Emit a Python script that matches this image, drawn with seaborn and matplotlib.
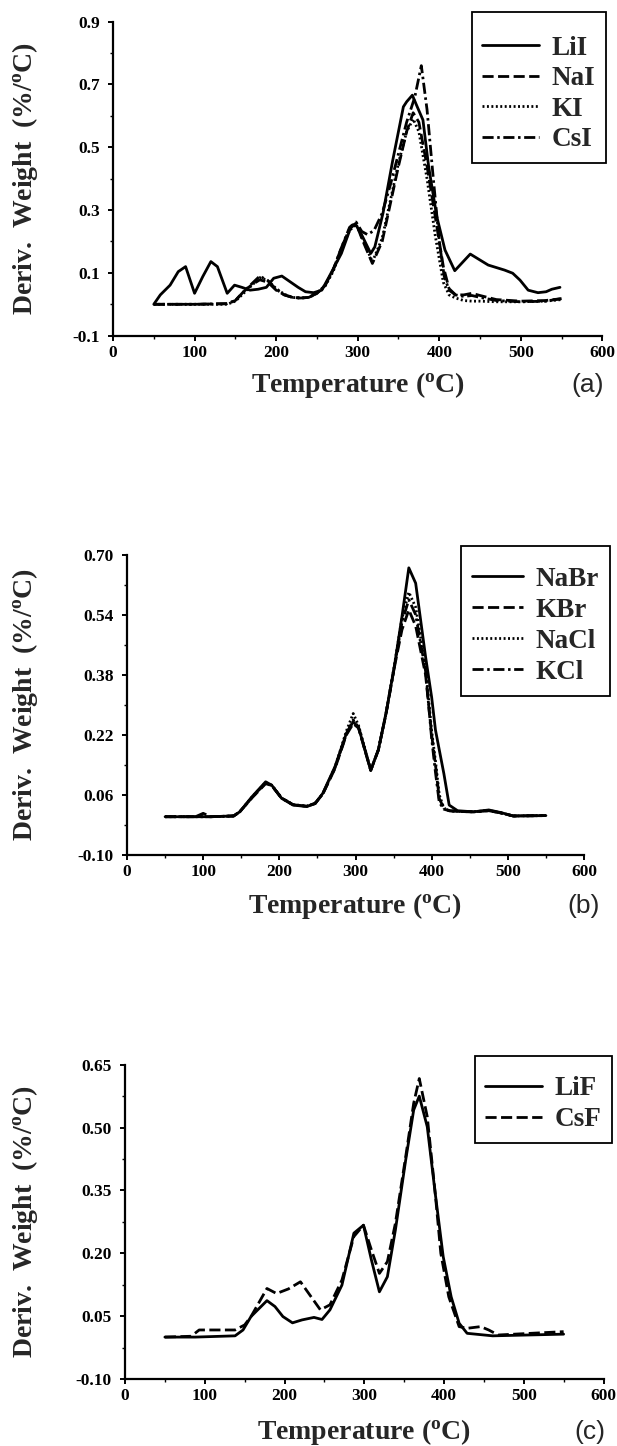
import numpy as np
import pandas as pd
import matplotlib
matplotlib.use("Agg")
import matplotlib.pyplot as plt
import seaborn as sns

# ---------------- data ----------------
# Panel (a)
T_LiI = [50, 58, 70, 80, 89, 100, 110, 120, 128, 140, 149, 158, 168, 178, 188, 197, 207, 217, 227, 236,
         246, 256, 265, 280, 292, 297, 304, 316, 321, 331, 343, 356, 360, 367, 373, 380, 387, 397, 407,
         419, 438, 460, 480, 490, 499, 509, 521, 531, 538, 548]
V_LiI = [0.0, 0.03, 0.061, 0.104, 0.12, 0.035, 0.088, 0.136, 0.12, 0.035, 0.061, 0.054, 0.045, 0.048,
         0.054, 0.083, 0.09, 0.072, 0.054, 0.04, 0.037, 0.045, 0.088, 0.162, 0.249, 0.256, 0.226, 0.162,
         0.183, 0.29, 0.459, 0.629, 0.645, 0.666, 0.629, 0.587, 0.438, 0.279, 0.173, 0.107, 0.16, 0.125,
         0.109, 0.099, 0.077, 0.045, 0.037, 0.04, 0.048, 0.054]
T_I = [50, 100, 140, 150, 160, 170, 180, 190, 200, 210, 220, 230, 240, 250, 260, 270, 280, 290, 298, 305,
       318, 330, 340, 350, 360, 368, 375, 385, 395, 405, 412, 420, 430, 440, 450, 470, 500, 530, 550]
V_NaI = [0.0, 0.0, 0.002, 0.012, 0.04, 0.062, 0.078, 0.07, 0.045, 0.03, 0.022, 0.02, 0.022, 0.035, 0.06,
         0.11, 0.18, 0.24, 0.258, 0.21, 0.13, 0.2, 0.32, 0.44, 0.55, 0.61, 0.58, 0.44, 0.28, 0.12, 0.05,
         0.03, 0.03, 0.035, 0.028, 0.015, 0.01, 0.012, 0.018]
V_KI = [0.0, 0.0, 0.0, 0.01, 0.035, 0.06, 0.085, 0.075, 0.05, 0.032, 0.022, 0.02, 0.022, 0.035, 0.058,
        0.105, 0.175, 0.235, 0.255, 0.215, 0.135, 0.21, 0.33, 0.45, 0.55, 0.59, 0.55, 0.40, 0.22, 0.07,
        0.03, 0.02, 0.012, 0.01, 0.01, 0.008, 0.008, 0.01, 0.015]
T_CsI = [50, 100, 140, 150, 160, 170, 180, 190, 200, 210, 220, 230, 240, 250, 260, 270, 280, 290, 298,
         305, 312, 320, 330, 340, 350, 360, 370, 378, 385, 392, 400, 406, 412, 420, 430, 440, 450, 470,
         500, 530, 550]
V_CsI = [0.0, 0.0, 0.002, 0.012, 0.04, 0.065, 0.09, 0.075, 0.048, 0.03, 0.022, 0.02, 0.022, 0.035, 0.06,
         0.11, 0.18, 0.245, 0.262, 0.232, 0.222, 0.235, 0.29, 0.38, 0.48, 0.58, 0.66, 0.76, 0.62, 0.42,
         0.2, 0.09, 0.045, 0.03, 0.025, 0.028, 0.022, 0.012, 0.008, 0.01, 0.018]

# Panel (b)
T_b = [50, 90, 100, 110, 140, 148, 164, 182, 190, 203, 218, 236, 247, 257, 273, 288, 297, 304, 320, 330,
       340, 351, 361, 370, 379, 392, 400, 405, 410, 416, 423, 434, 455, 475, 491, 507, 550]
V_NaBr = [0.002, 0.002, 0.002, 0.002, 0.004, 0.015, 0.055, 0.095, 0.086, 0.051, 0.033, 0.029, 0.037,
          0.064, 0.135, 0.224, 0.255, 0.24, 0.126, 0.18, 0.277, 0.402, 0.535, 0.665, 0.624, 0.428, 0.32,
          0.233, 0.18, 0.117, 0.033, 0.018, 0.015, 0.02, 0.013, 0.004, 0.005]
V_KBr = [0.002, 0.002, 0.011, 0.002, 0.004, 0.015, 0.052, 0.09, 0.085, 0.052, 0.034, 0.03, 0.038, 0.062,
         0.13, 0.22, 0.25, 0.238, 0.125, 0.18, 0.275, 0.4, 0.5, 0.553, 0.51, 0.38, 0.22, 0.14, 0.05, 0.025,
         0.018, 0.016, 0.015, 0.018, 0.012, 0.004, 0.005]
V_NaCl = [0.002, 0.002, 0.002, 0.002, 0.004, 0.015, 0.054, 0.093, 0.086, 0.052, 0.034, 0.03, 0.038,
          0.063, 0.133, 0.23, 0.277, 0.245, 0.126, 0.18, 0.277, 0.405, 0.53, 0.60, 0.56, 0.40, 0.23, 0.15,
          0.06, 0.025, 0.018, 0.016, 0.015, 0.019, 0.012, 0.004, 0.005]
V_KCl = [0.002, 0.002, 0.002, 0.002, 0.004, 0.015, 0.053, 0.092, 0.085, 0.051, 0.034, 0.03, 0.037,
         0.063, 0.132, 0.222, 0.26, 0.24, 0.126, 0.18, 0.276, 0.40, 0.52, 0.58, 0.54, 0.39, 0.21, 0.12,
         0.04, 0.022, 0.018, 0.016, 0.015, 0.018, 0.012, 0.004, 0.005]

# Panel (c)
T_LiF = [50, 88, 138, 148, 158, 178, 188, 198, 210, 222, 237, 247, 257, 272, 287, 299, 309, 319, 329, 339,
         352, 362, 369, 379, 389, 399, 409, 419, 429, 461, 550]
V_LiF = [0.0, 0.0, 0.003, 0.017, 0.049, 0.087, 0.073, 0.049, 0.034, 0.041, 0.047, 0.042, 0.065, 0.124,
         0.248, 0.267, 0.184, 0.108, 0.144, 0.255, 0.423, 0.542, 0.575, 0.502, 0.343, 0.192, 0.096, 0.033,
         0.009, 0.003, 0.007]
T_CsF = [50, 83, 93, 138, 150, 158, 178, 190, 205, 220, 245, 257, 272, 287, 299, 309, 319, 329, 339, 352,
         362, 369, 379, 389, 396, 406, 419, 429, 446, 456, 468, 550]
V_CsF = [0.0, 0.002, 0.017, 0.017, 0.029, 0.049, 0.116, 0.104, 0.115, 0.132, 0.065, 0.077, 0.136, 0.24,
         0.267, 0.208, 0.152, 0.18, 0.271, 0.431, 0.558, 0.617, 0.526, 0.343, 0.2, 0.096, 0.025, 0.021,
         0.025, 0.017, 0.005, 0.013]

x_ticks = [0, 100, 200, 300, 400, 500, 600]
yticks_a = [-0.1, 0.1, 0.3, 0.5, 0.7, 0.9]
ylabels_a = ["-0.1", "0.1", "0.3", "0.5", "0.7", "0.9"]
yticks_b = [-0.10, 0.06, 0.22, 0.38, 0.54, 0.70]
ylabels_b = ["-0.10", "0.06", "0.22", "0.38", "0.54", "0.70"]
yticks_c = [-0.10, 0.05, 0.20, 0.35, 0.50, 0.65]
ylabels_c = ["-0.10", "0.05", "0.20", "0.35", "0.50", "0.65"]

# ---------------- style ----------------
sns.set_style("ticks")
plt.rcParams["font.family"] = ["Liberation Serif", "DejaVu Serif"]
plt.rcParams["font.weight"] = "bold"
plt.rcParams["mathtext.fontset"] = "custom"
plt.rcParams["mathtext.rm"] = "Liberation Serif:bold"
plt.rcParams["mathtext.it"] = "Liberation Serif:bold"
plt.rcParams["mathtext.bf"] = "Liberation Serif:bold"

W, H = 617, 1446
fig = plt.figure(figsize=(W / 100, H / 100), dpi=100)

SOLID = "-"
DASH = (0, (4, 1.6))
DOT = (0, (0.7, 0.9))
DASHDOT = (0, (4, 1.3, 0.9, 1.3))


def px_axes(x0, x1, y0, y1):
    return fig.add_axes([x0 / W, 1 - y1 / H, (x1 - x0) / W, (y1 - y0) / H])


def style_axes(ax, yticks, ylabels, ylim, yminor, xlab_off, tag, tag_xy, leg_anchor, leg_fs, lspace,
               title_fs, hlen):
    ax.set_xlim(0, 600)
    ax.set_ylim(*ylim)
    ax.set_xticks(x_ticks)
    ax.set_xticklabels([str(t) for t in x_ticks])
    ax.set_yticks(yticks)
    ax.set_yticklabels(ylabels)
    ax.set_xticks(np.arange(50, 600, 100), minor=True)
    ax.set_yticks(yminor, minor=True)
    for s in ["top", "right"]:
        ax.spines[s].set_visible(False)
    for s in ["left", "bottom"]:
        ax.spines[s].set_linewidth(1.6)
        ax.spines[s].set_color("black")
    ax.tick_params(axis="both", which="major", length=3.5, width=1.4, direction="out", colors="black",
                   labelsize=12.5)
    ax.tick_params(axis="both", which="minor", length=2, width=1.0, direction="out", colors="black")
    ax.tick_params(axis="x", which="major", pad=3)
    ax.tick_params(axis="y", which="major", pad=6)
    for lab in ax.get_xticklabels() + ax.get_yticklabels():
        lab.set_fontweight("bold")
    ax.set_xlabel(r"Temperature ($^{\mathrm{o}}$C)", fontsize=20, fontweight="bold", va="center")
    ax.xaxis.set_label_coords(0.5, xlab_off)
    ax.set_ylabel(r"Deriv.  Weight  (%/$^{\mathrm{o}}$C)", fontsize=20, fontweight="bold")
    bb = ax.get_position()
    ax.yaxis.set_label_coords((40 / W - bb.x0) / bb.width, 0.5)
    fig.text(tag_xy[0] / W, 1 - tag_xy[1] / H, tag, fontsize=19, fontweight="normal",
             family=["Liberation Sans", "DejaVu Sans"], ha="center", va="center")
    leg = ax.legend(loc="upper right", bbox_to_anchor=(leg_anchor[0] / W, 1 - leg_anchor[1] / H),
                    bbox_transform=fig.transFigure, frameon=True, fancybox=False, framealpha=1,
                    edgecolor="black", fontsize=leg_fs, handlelength=hlen, handletextpad=0.45,
                    labelspacing=lspace, borderpad=0.4, borderaxespad=0,
                    title=" ", title_fontsize=title_fs)
    leg.get_frame().set_linewidth(1.3)
    for t in leg.get_texts():
        t.set_fontweight("bold")


LW = 2.0

# ---- panel (a)
ax = px_axes(113, 602.4, 21.7, 335.7)
for T, V, name, ls in [(T_LiI, V_LiI, "LiI", SOLID), (T_I, V_NaI, "NaI", DASH),
                       (T_I, V_KI, "KI", DOT), (T_CsI, V_CsI, "CsI", DASHDOT)]:
    df = pd.DataFrame({"T": T, "V": V})
    sns.lineplot(data=df, x="T", y="V", ax=ax, color="black", linewidth=LW, linestyle=ls, label=name,
                 sort=False)
style_axes(ax, yticks_a, ylabels_a, (-0.1, 0.9), np.arange(0.0, 0.9, 0.2), -(385 - 335.7) / 314,
           "(a)", (588, 385), (606, 11.7), 19.5, 0.2, 6, 2.1)

# ---- panel (b)
ax = px_axes(127, 584, 554.7, 855)
for V, name, ls in [(V_NaBr, "NaBr", SOLID), (V_KBr, "KBr", DASH), (V_NaCl, "NaCl", DOT),
                    (V_KCl, "KCl", DASHDOT)]:
    df = pd.DataFrame({"T": T_b, "V": V})
    sns.lineplot(data=df, x="T", y="V", ax=ax, color="black", linewidth=LW, linestyle=ls, label=name,
                 sort=False)
style_axes(ax, yticks_b, ylabels_b, (-0.10, 0.70), np.arange(-0.02, 0.70, 0.16), -(906 - 855) / 300.3,
           "(b)", (584, 906), (609.5, 546), 19.5, 0.22, 3, 1.9)

# ---- panel (c)
ax = px_axes(125, 603.5, 1064.7, 1379)
for T, V, name, ls in [(T_LiF, V_LiF, "LiF", SOLID), (T_CsF, V_CsF, "CsF", DASH)]:
    df = pd.DataFrame({"T": T, "V": V})
    sns.lineplot(data=df, x="T", y="V", ax=ax, color="black", linewidth=LW, linestyle=ls, label=name,
                 sort=False)
style_axes(ax, yticks_c, ylabels_c, (-0.10, 0.65), np.arange(-0.025, 0.65, 0.15), -(1432 - 1379) / 314.3,
           "(c)", (590, 1432), (612, 1055.7), 19.5, 0.22, 3, 2.1)

fig.savefig("out.png", dpi=100, facecolor="white")
